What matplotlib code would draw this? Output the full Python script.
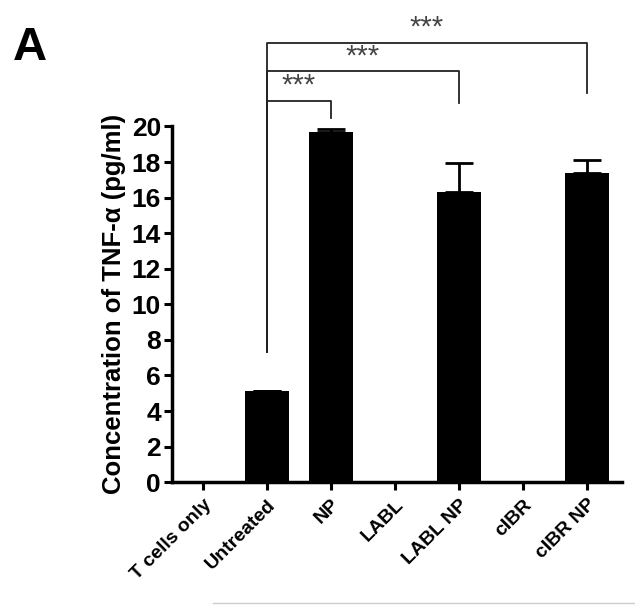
import numpy as np
import matplotlib.pyplot as plt
from matplotlib.lines import Line2D

plt.rcParams['font.family'] = ['Liberation Sans', 'DejaVu Sans']

groups = ["T cells only", "Untreated", "NP", "LABL", "LABL NP", "cIBR", "cIBR NP"]
tnf = [0.0, 5.1, 19.7, 0.0, 16.3, 0.0, 17.4]
tnf_err = [0.0, 0.0, 0.15, 0.0, 1.65, 0.0, 0.7]

# significance brackets: (from, to, bracket height, drop-end height)
brackets = [(1, 2, 21.45, 20.5), (1, 4, 23.1, 21.3), (1, 6, 24.7, 21.9)]
bracket_base = 7.3

fig = plt.figure(figsize=(6.35, 6.05), dpi=100)
ax = fig.add_axes([0.271, 0.203, 0.709, 0.588])

x = np.arange(len(groups))
ax.bar(x, tnf, width=0.69, color="black", zorder=2)
ax.errorbar(x, tnf, yerr=[np.zeros(len(tnf)), tnf_err], fmt="none",
            ecolor="black", elinewidth=2, capsize=10, capthick=2, zorder=3)

ax.set_xlim(-0.48, 6.55)
ax.set_ylim(0, 20)
ax.set_yticks(np.arange(0, 21, 2))
ax.set_xticks(x)
ax.set_xticklabels(groups, rotation=45, ha="right", rotation_mode="anchor",
                   fontsize=14, fontweight="bold")
for lab in ax.get_yticklabels():
    lab.set_fontsize(19)
    lab.set_fontweight("bold")

for s in ["top", "right"]:
    ax.spines[s].set_visible(False)
for s in ["left", "bottom"]:
    ax.spines[s].set_linewidth(2.5)
ax.tick_params(axis="both", direction="out", length=6, width=2.2, pad=2)
ax.tick_params(axis="x", pad=4)

ax.set_ylabel("Concentration of TNF-α (pg/ml)", fontsize=18.5, fontweight="bold", labelpad=4)

for i0, i1, h, drop in brackets:
    ax.plot([x[i0], x[i0], x[i1], x[i1]], [bracket_base, h, h, drop],
            color="#222222", lw=1.3, clip_on=False, zorder=1)
    ax.text((x[i0] + x[i1]) / 2, h + 0.05, "***", ha="center", va="bottom",
            fontsize=21, color="#444444", clip_on=False)

fig.text(0.02, 0.92, "A", fontsize=34, fontweight="bold", ha="left", va="center")
fig.add_artist(Line2D([0.335, 1.0], [0.004, 0.004], color="#cccccc", lw=1))

fig.savefig("out.png", dpi=100)
